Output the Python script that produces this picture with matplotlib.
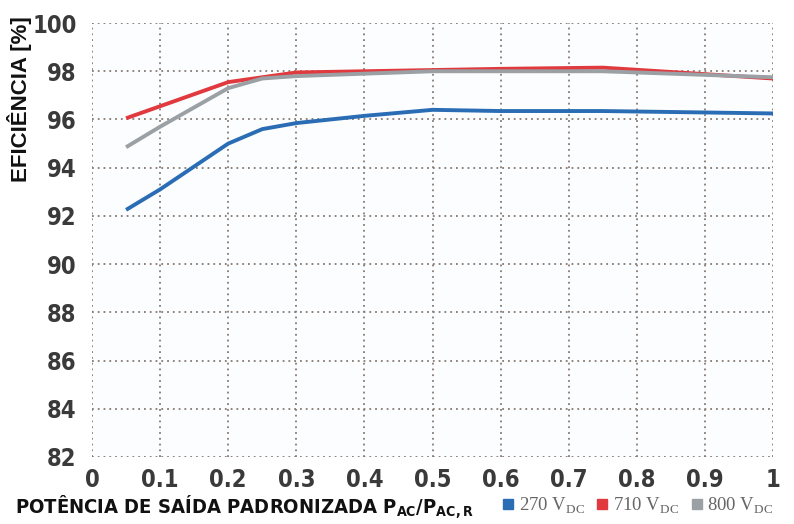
import matplotlib
matplotlib.use("Agg")
import matplotlib.pyplot as plt
from matplotlib.lines import Line2D

plt.rcParams["font.family"] = ["DejaVu Sans"]
plt.rcParams["font.stretch"] = "condensed"
plt.rcParams["mathtext.fontset"] = "custom"
plt.rcParams["mathtext.rm"] = "Liberation Serif"
plt.rcParams["mathtext.sf"] = "DejaVu Sans:stretch=condensed"
plt.rcParams["mathtext.bf"] = "DejaVu Sans:stretch=condensed:weight=bold"

potencia = [0.05, 0.1, 0.2, 0.25, 0.3, 0.4, 0.5, 0.6, 0.75, 1.0]
ef_270 = [92.25, 93.1, 95.0, 95.6, 95.85, 96.15, 96.4, 96.35, 96.35, 96.25]
ef_710 = [96.05, 96.55, 97.55, 97.75, 97.95, 98.0, 98.05, 98.1, 98.15, 97.7]
ef_800 = [94.85, 95.7, 97.3, 97.7, 97.8, 97.9, 98.0, 98.0, 98.0, 97.75]

series = [
    ("270 V$_{\\mathrm{DC}}$", ef_270, "#2a6db5"),
    ("710 V$_{\\mathrm{DC}}$", ef_710, "#e0393e"),
    ("800 V$_{\\mathrm{DC}}$", ef_800, "#9aa0a4"),
]

xticks = [0, 0.1, 0.2, 0.3, 0.4, 0.5, 0.6, 0.7, 0.8, 0.9, 1]
xtick_labels = ["0", "0.1", "0.2", "0.3", "0.4", "0.5", "0.6", "0.7", "0.8", "0.9", "1"]
yticks = list(range(82, 101, 2))

fig = plt.figure(figsize=(7.94, 5.24), dpi=100)
ax = fig.add_axes([0.1159, 0.128, 0.8577, 0.828])
ax.set_facecolor("#fcfdfe")

for label, vals, color in series:
    ax.plot(potencia, vals, color=color, lw=2.8, solid_capstyle="butt")

ax.set_xlim(0, 1)
ax.set_ylim(82, 100)
ax.set_xticks(xticks)
ax.set_xticklabels(xtick_labels)
ax.set_yticks(yticks)
ax.grid(True, color="#857a72", linestyle=(0, (1, 2.2)), lw=1.3)
for s in ax.spines.values():
    s.set_visible(False)
ax.tick_params(length=0, labelsize=17, labelcolor="#3a3a3a")
for t in ax.get_xticklabels() + ax.get_yticklabels():
    t.set_fontweight("bold")
ax.tick_params(axis="y", pad=11)
ax.tick_params(axis="x", pad=8)

fig.text(0.024, 0.81, "EFICIÊNCIA [%]", rotation=90, ha="center", va="center",
         fontsize=16, fontweight="bold", color="#111111",
         family="Liberation Sans", stretch="normal")

fig.text(0.019, 0.02, "POTÊNCIA DE SAÍDA PADRONIZADA $\\mathbf{P_{AC}/P_{AC,R}}$",
         fontsize=14.5, color="#111111", fontweight="bold")

handles = [Line2D([], [], marker="s", ls="none", color=c, markersize=6.5) for _, _, c in series]
leg = fig.legend(handles, [s[0] for s in series], loc="lower left",
                 bbox_to_anchor=(0.607, -0.016), ncol=3, frameon=False,
                 handletextpad=0.05, columnspacing=0.45, handlelength=1.0,
                 prop={"family": "Liberation Serif", "size": 13.5})
for t in leg.get_texts():
    t.set_color("#666666")

fig.savefig("out.png", dpi=100)
